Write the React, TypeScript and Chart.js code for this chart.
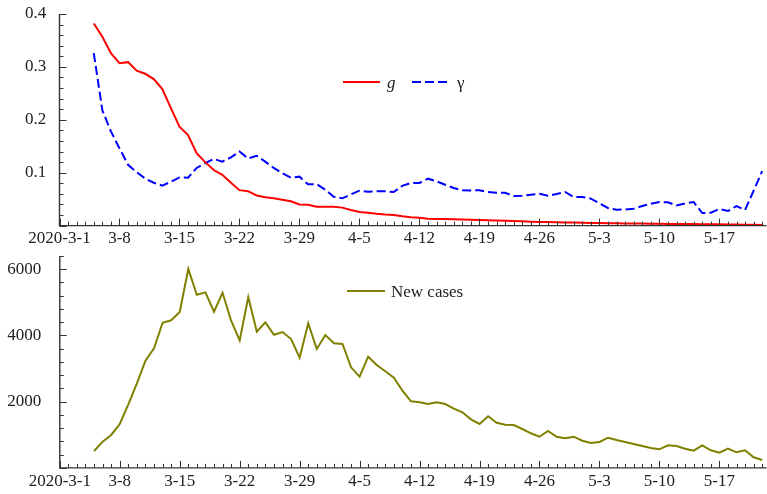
import React, { useEffect, useRef } from "react";
import { Chart, registerables } from "chart.js";

Chart.register(...registerables);

// Day index 0 = 2020-3-1; data begins on 2020-3-5 (day 4)
const FIRST_DAY = 4;
const X_MAX = 82.5;

const xTickLabels = ["2020-3-1", "3-8", "3-15", "3-22", "3-29", "4-5", "4-12", "4-19", "4-26", "5-3", "5-10", "5-17"];
const topYTicks = [0, 0.1, 0.2, 0.3, 0.4];
const bottomYTicks = [0, 2000, 4000, 6000];

const gValues = [
  0.382, 0.357, 0.326, 0.307, 0.309, 0.293, 0.287, 0.277, 0.258, 0.222,
  0.187, 0.171, 0.137, 0.12, 0.105, 0.096, 0.081, 0.067, 0.065, 0.057,
  0.0535, 0.0516, 0.049, 0.046, 0.04, 0.0395, 0.0357, 0.0357, 0.0357, 0.034,
  0.0295, 0.0257, 0.0244, 0.0225, 0.021, 0.02, 0.0176, 0.016, 0.015, 0.013,
  0.0127, 0.0125, 0.012, 0.0115, 0.011, 0.0105, 0.01, 0.0095, 0.009, 0.0085,
  0.008, 0.0075, 0.007, 0.0068, 0.0065, 0.006, 0.0058, 0.0055, 0.005, 0.0048,
  0.0046, 0.0044, 0.0042, 0.004, 0.0038, 0.0036, 0.0034, 0.0032, 0.003, 0.0029,
  0.0028, 0.0026, 0.0025, 0.0024, 0.0022, 0.002, 0.0018, 0.0016, 0.0012,
];

const gammaValues = [
  0.326, 0.218, 0.178, 0.146, 0.115, 0.101, 0.089, 0.081, 0.0755, 0.083,
  0.091, 0.0906, 0.109, 0.118, 0.126, 0.121, 0.129, 0.14, 0.127, 0.132,
  0.121, 0.109, 0.099, 0.0906, 0.0925, 0.078, 0.0786, 0.068, 0.0546, 0.0516,
  0.059, 0.066, 0.064, 0.065, 0.065, 0.0635, 0.075, 0.0805, 0.0805, 0.0887,
  0.0837, 0.0773, 0.071, 0.067, 0.0665, 0.067, 0.0635, 0.062, 0.062, 0.056,
  0.0565, 0.0584, 0.06, 0.0565, 0.0597, 0.0635, 0.054, 0.054, 0.051, 0.042,
  0.0333, 0.03, 0.0305, 0.032, 0.037, 0.0414, 0.0446, 0.044, 0.038, 0.042,
  0.0446, 0.0238, 0.0244, 0.0314, 0.0276, 0.037, 0.0295, 0.066, 0.103,
];

const newCases = [
  510, 792, 994, 1326, 1920, 2555, 3238, 3611, 4385, 4457,
  4708, 6007, 5231, 5303, 4717, 5291, 4445, 3853, 5161, 4113,
  4397, 4023, 4104, 3893, 3328, 4367, 3591, 4014, 3763, 3742,
  3038, 2754, 3358, 3108, 2917, 2724, 2331, 2011, 1981, 1930,
  1981, 1930, 1788, 1679, 1468, 1326, 1558, 1365, 1305, 1296,
  1175, 1045, 942, 1118, 942, 894, 942, 821, 752, 782,
  912, 843, 782, 722, 661, 601, 562, 682, 661, 580,
  519, 682, 531, 459, 580, 471, 531, 320, 239,
];

const FONT = '"Liberation Serif", "Times New Roman", serif';
const TEXT_COLOR = "#222";
const AXIS_COLOR = "#333";

const toPoints = (vals: number[]) => vals.map((v, i) => ({ x: FIRST_DAY + i, y: v }));

type LegendItem = { x: number; w: number; tx: number; italic?: boolean };

const sciAxesPlugin = {
  id: "sciAxes",
  afterDatasetsDraw(chart: any, _args: any, opts: any) {
    const { ctx, chartArea: a, scales } = chart;
    const xs = scales.x;
    const ys = scales.y;
    ctx.save();
    ctx.strokeStyle = AXIS_COLOR;
    ctx.lineWidth = 1.4;
    ctx.beginPath();
    ctx.moveTo(a.left, a.top);
    ctx.lineTo(a.left, a.bottom);
    ctx.lineTo(a.right, a.bottom);
    ctx.stroke();

    ctx.lineWidth = 1;
    ctx.beginPath();
    for (let d = 0; d <= Math.floor(X_MAX); d++) {
      const px = Math.round(xs.getPixelForValue(d)) + 0.5;
      const len = d % 7 === 0 ? 7 : 4;
      ctx.moveTo(px, a.bottom);
      ctx.lineTo(px, a.bottom - len);
    }
    for (let k = 0; k <= opts.yMinorCount; k++) {
      const v = k * opts.yMinor;
      const py = Math.round(ys.getPixelForValue(v)) + 0.5;
      const len = k % opts.yMajorEvery === 0 ? 7 : 4;
      ctx.moveTo(a.left, py);
      ctx.lineTo(a.left + len, py);
    }
    ctx.stroke();

    // legend
    const items: LegendItem[] = opts.legend.items;
    const ly = opts.legend.y;
    chart.data.datasets.forEach((ds: any, i: number) => {
      const it = items[i];
      if (!it) return;
      ctx.strokeStyle = ds.borderColor;
      ctx.lineWidth = ds.borderWidth;
      ctx.setLineDash(ds.borderDash || []);
      ctx.beginPath();
      ctx.moveTo(it.x, ly);
      ctx.lineTo(it.x + it.w, ly);
      ctx.stroke();
      ctx.setLineDash([]);
      ctx.fillStyle = TEXT_COLOR;
      ctx.font = `${it.italic ? "italic " : ""}17px ${FONT}`;
      ctx.textBaseline = "alphabetic";
      ctx.textAlign = "left";
      ctx.fillText(ds.label, it.tx, ly + 6);
    });
    ctx.restore();
  },
};

const W = 767;
const H = 247;

function makeXScale(axisHeight: number) {
  return {
    type: "linear" as const,
    min: 0,
    max: X_MAX,
    grid: { display: false, drawTicks: false },
    border: { display: false },
    afterBuildTicks: (s: any) => {
      s.ticks = xTickLabels.map((_, i) => ({ value: i * 7 }));
    },
    ticks: {
      autoSkip: false,
      maxRotation: 0,
      padding: 3,
      color: TEXT_COLOR,
      font: { family: FONT, size: 17 },
      callback: (v: any) => xTickLabels[Math.round(Number(v) / 7)] ?? "",
    },
    afterFit: (s: any) => {
      s.height = axisHeight;
    },
  };
}

function makeYScale(max: number, tickVals: number[], labelFmt: (v: number) => string, width: number) {
  return {
    type: "linear" as const,
    min: 0,
    max,
    grid: { display: false, drawTicks: false },
    border: { display: false },
    afterBuildTicks: (s: any) => {
      s.ticks = tickVals.map((v) => ({ value: v }));
    },
    ticks: {
      padding: 0,
      crossAlign: "far" as const,
      color: TEXT_COLOR,
      font: { family: FONT, size: 17, lineHeight: 1 },
      callback: (v: any) => (Math.abs(Number(v)) < 1e-9 ? "" : labelFmt(Number(v))),
    },
    afterFit: (s: any) => {
      s.width = width;
    },
  };
}

export default function App() {
  const topRef = useRef<HTMLCanvasElement>(null);
  const botRef = useRef<HTMLCanvasElement>(null);

  useEffect(() => {
    const top = new Chart(topRef.current as HTMLCanvasElement, {
      type: "line",
      data: {
        datasets: [
          {
            label: "g",
            data: toPoints(gValues),
            borderColor: "#ff0000",
            borderWidth: 2,
            pointRadius: 0,
            fill: false,
            tension: 0,
          },
          {
            label: "γ",
            data: toPoints(gammaValues),
            borderColor: "#0000ff",
            borderWidth: 2,
            borderDash: [9, 4],
            pointRadius: 0,
            fill: false,
            tension: 0,
          },
        ],
      },
      options: {
        responsive: false,
        animation: false,
        devicePixelRatio: 1,
        layout: { padding: { top: 14, right: 0.5, left: 25, bottom: 0 } },
        plugins: {
          legend: { display: false },
          tooltip: { enabled: false },
          sciAxes: {
            yMinor: 0.02,
            yMinorCount: 20,
            yMajorEvery: 5,
            legend: {
              y: 82,
              items: [
                { x: 343, w: 37, tx: 387, italic: true },
                { x: 412, w: 36, tx: 457 },
              ],
            },
          },
        } as any,
        scales: {
          x: makeXScale(H - 225.6),
          y: makeYScale(0.4, topYTicks, (v) => v.toFixed(1), 34.5),
        },
      },
      plugins: [sciAxesPlugin],
    });

    const bottom = new Chart(botRef.current as HTMLCanvasElement, {
      type: "line",
      data: {
        datasets: [
          {
            label: "New cases",
            data: toPoints(newCases),
            borderColor: "#808000",
            borderWidth: 2,
            pointRadius: 0,
            fill: false,
            tension: 0,
          },
        ],
      },
      options: {
        responsive: false,
        animation: false,
        devicePixelRatio: 1,
        layout: { padding: { top: 9, right: 0.5, left: 7.3, bottom: 0 } },
        plugins: {
          legend: { display: false },
          tooltip: { enabled: false },
          sciAxes: {
            yMinor: 400,
            yMinorCount: 16,
            yMajorEvery: 5,
            legend: {
              y: 44,
              items: [{ x: 347, w: 38, tx: 391 }],
            },
          },
        } as any,
        scales: {
          x: makeXScale(H - 220.9),
          y: makeYScale(6400, bottomYTicks, (v) => String(Math.round(v)), 52.5),
        },
      },
      plugins: [sciAxesPlugin],
    });

    return () => {
      top.destroy();
      bottom.destroy();
    };
  }, []);

  return (
    <div style={{ position: "absolute", left: 0, top: 0, width: W, height: 2 * H, background: "#fff" }}>
      <canvas ref={topRef} width={W} height={H} style={{ position: "absolute", left: 0, top: 0, width: W, height: H }} />
      <canvas ref={botRef} width={W} height={H} style={{ position: "absolute", left: 0, top: H, width: W, height: H }} />
    </div>
  );
}
